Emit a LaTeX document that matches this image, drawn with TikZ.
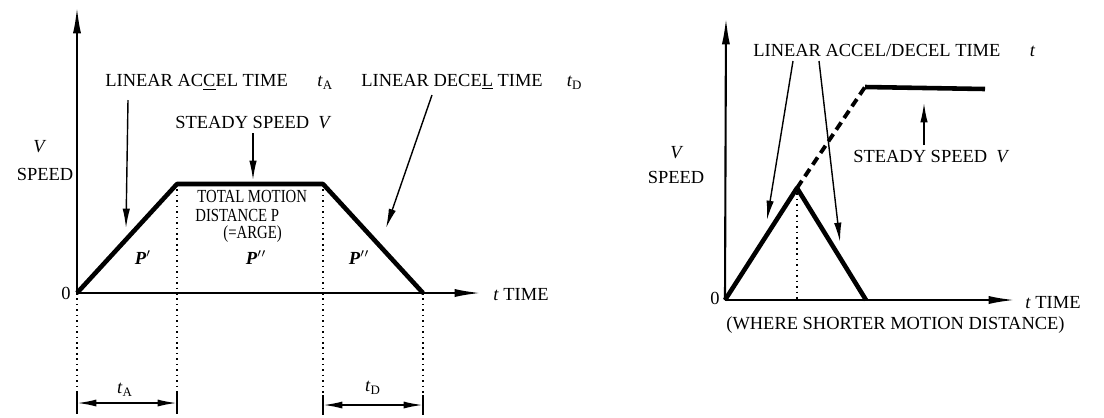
\documentclass[tikz,border=0pt]{standalone}
\usepackage{fontspec}
\usepackage{graphicx}
\setmainfont{Liberation Serif}
\usetikzlibrary{arrows.meta}

\tikzset{
  axis/.style={line width=1.2pt,-{Latex[length=15pt,width=4.6pt]}},
  profile/.style={line width=2.6pt,line join=round},
  guide/.style={line width=0.9pt,dash pattern=on 0.9pt off 2.2pt},
  pointer/.style={line width=0.8pt,-{Latex[length=11pt,width=4.2pt]}},
  dimline/.style={line width=1pt,{Latex[length=11pt,width=4pt]}-{Latex[length=11pt,width=4pt]}},
  bar/.style={line width=1.1pt},
  lbl/.style={inner sep=0pt,font=\fontsize{10.5}{12}\selectfont},
}
\newcommand{\narrow}[1]{\scalebox{0.8}[1]{#1}}

\begin{document}
\begin{tikzpicture}[x=0.2mm,y=-0.2mm]
  \useasboundingbox (0,0) rectangle (1104,417);

  % left: trapezoidal profile
  \coordinate (O1) at (77,293);
  \coordinate (A1) at (177,184);
  \coordinate (B1) at (323,184);
  \coordinate (C1) at (423,293);
  \coordinate (Y1) at (77,7);
  \coordinate (X1) at (481,293);
  \draw[axis] (O1) -- (Y1);
  \draw[axis] (O1) -- (X1);
  \draw[profile] (O1) -- (A1) -- (B1) -- (C1);

  \coordinate (gO1) at (77,413);
  \coordinate (gA1) at (177,413);
  \coordinate (gB1) at (323,415);
  \coordinate (gC1) at (423,415);
  \draw[guide] (O1) -- (gO1);
  \draw[guide] (A1) -- (gA1);
  \draw[guide] (B1) -- (gB1);
  \draw[guide] (C1) -- (gC1);

  \node[lbl] (zero1) at (66,293) {0};
  \node[lbl] (v1) at (40,147) {\textit{V}};
  \node[lbl] (sp1) at (45,174) {SPEED};
  \node[lbl,anchor=west] (t1) at (493,295) {\textit{t} TIME};

  \node[lbl,anchor=west] (acc) at (105,82) {LINEAR AC\underline{C}EL TIME\hspace{1.6em}\textit{t}\textsubscript{A}};
  \node[lbl,anchor=west] (dec) at (361,82) {LINEAR DECE\underline{L} TIME\hspace{1.3em}\textit{t}\textsubscript{D}};
  \node[lbl,anchor=west] (ss1) at (175,123) {STEADY SPEED\ \ \textit{V}};

  \coordinate (accTop) at (128,100);
  \coordinate (accTip) at (126,228);
  \coordinate (decTop) at (432,95);
  \coordinate (decTip) at (386,228);
  \coordinate (ssTop) at (253,133);
  \coordinate (ssTip) at (253,180);
  \draw[pointer] (accTop) -- (accTip);
  \draw[pointer] (decTop) -- (decTip);
  \draw[pointer] (ssTop) -- (ssTip);

  \node[lbl,anchor=west] (tm1) at (197,196) {\narrow{TOTAL MOTION}};
  \node[lbl,anchor=west] (tm2) at (195,215) {\narrow{DISTANCE P}};
  \node[lbl,anchor=west] (tm3) at (223,234) {\narrow{(=ARGE)}};

  \node[lbl] (pa) at (143,258) {\textbf{\textit{P}}${}'$};
  \node[lbl] (pb) at (256,258) {\textbf{\textit{P}}${}''$};
  \node[lbl] (pc) at (359,258) {\textbf{\textit{P}}${}''$};

  % dimensions
  \coordinate (tA0) at (77,403);
  \coordinate (tA1) at (177,403);
  \coordinate (tD0) at (323,405);
  \coordinate (tD1) at (423,405);
  \foreach \p in {tA0,tA1,tD0,tD1}
    \draw[bar] ([yshift=2mm]\p) -- ([yshift=-2mm]\p);
  \draw[dimline] (tA0) -- (tA1);
  \draw[dimline] (tD0) -- (tD1);
  \node[lbl] (ta) at (125,390) {\textit{t}\textsubscript{A}};
  \node[lbl] (td) at (373,388) {\textit{t}\textsubscript{D}};

  % right: triangular profile
  \coordinate (O2) at (725,300);
  \coordinate (Q2) at (797,188);
  \coordinate (R2) at (866,300);
  \coordinate (S2) at (865,87);
  \coordinate (E2) at (985,89);
  \coordinate (Y2) at (726,18);
  \coordinate (X2) at (1015,300);
  \draw[axis] (O2) -- (Y2);
  \draw[axis] (O2) -- (X2);
  \draw[profile] (O2) -- (Q2) -- (R2);
  \draw[profile,line width=2.2pt,dash pattern=on 5pt off 3pt] (Q2) -- (S2);
  \draw[profile] (S2) -- (E2);
  \coordinate (gQ2) at (797,300);
  \draw[guide] (Q2) -- (gQ2);

  \node[lbl] (zero2) at (715,298) {0};
  \node[lbl] (v2) at (677,153) {\textit{V}};
  \node[lbl] (sp2) at (676,177) {SPEED};
  \node[lbl,anchor=west] (t2) at (1025,303) {\textit{t} TIME};
  \node[lbl,anchor=west] (where) at (726,325) {(WHERE SHORTER MOTION DISTANCE)};
  \node[lbl,anchor=west] (lad) at (753,50) {LINEAR ACCEL/DECEL TIME\hspace{1.6em}\textit{t}};
  \node[lbl,anchor=west] (ss2) at (853,157) {STEADY SPEED\ \ \textit{V}};

  \coordinate (ladL) at (793,61);
  \coordinate (ladLTip) at (767,220);
  \coordinate (ladR) at (819,61);
  \coordinate (ladRTip) at (840,242);
  \coordinate (ss2Bot) at (924,145);
  \coordinate (ss2Tip) at (924,103);
  \draw[pointer] (ladL) -- (ladLTip);
  \draw[pointer] (ladR) -- (ladRTip);
  \draw[pointer] (ss2Bot) -- (ss2Tip);
\end{tikzpicture}
\end{document}
